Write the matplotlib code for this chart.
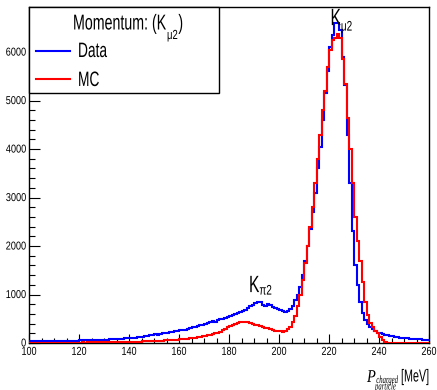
import matplotlib
matplotlib.use("Agg")
import matplotlib.pyplot as plt
import numpy as np
from matplotlib.lines import Line2D
from matplotlib.patches import Rectangle
from matplotlib.ticker import MultipleLocator
from matplotlib.patheffects import AbstractPathEffect
from matplotlib.transforms import Affine2D

SANS = ["Liberation Sans", "DejaVu Sans"]
SERIF = ["Liberation Serif", "DejaVu Serif"]
plt.rcParams["font.family"] = SANS

# Charged-particle momentum spectrum, 1 MeV bins from 100 to 260 MeV
p_low, p_high = 100, 260
bin_edges = np.arange(p_low, p_high + 1, 1)

data_counts = [
    35, 30, 38, 33, 36, 40, 34, 38, 42, 37,
    40, 44, 39, 43, 46, 42, 48, 45, 50, 47,
    52, 49, 55, 58, 53, 60, 57, 63, 66, 62,
    70, 68, 75, 80, 77, 85, 90, 88, 97, 95,
    105, 110, 108, 120, 125, 130, 138, 145, 160, 170,
    180, 175, 195, 200, 210, 205, 225, 235, 245, 240,
    260, 275, 270, 295, 310, 330, 340, 355, 370, 380,
    395, 410, 430, 445, 440, 470, 490, 500, 520, 540,
    560, 575, 600, 620, 645, 660, 690, 720, 760, 790,
    820, 850, 840, 790, 770, 810, 790, 750, 730, 700,
    680, 660, 645, 665, 710, 770, 880, 990, 1150, 1400,
    1700, 2000, 2350, 2700, 3100, 3600, 4050, 4600, 5150, 5600,
    6100, 6350, 6600, 6600, 6450, 5900, 5320, 4300, 3300, 2300,
    1600, 1200, 850, 620, 480, 400, 330, 280, 240, 215,
    200, 190, 175, 160, 150, 140, 130, 120, 112, 105,
    100, 95, 92, 88, 85, 80, 76, 72, 68, 64,
]

mc_counts = [
    5, 4, 6, 5, 5, 6, 5, 7, 6, 6,
    7, 6, 8, 7, 8, 9, 8, 10, 9, 10,
    10, 11, 10, 12, 12, 13, 12, 14, 15, 14,
    15, 16, 17, 16, 18, 20, 19, 21, 22, 24,
    25, 26, 28, 30, 29, 32, 34, 36, 38, 40,
    42, 45, 44, 48, 52, 55, 58, 62, 66, 70,
    75, 80, 85, 90, 98, 105, 112, 120, 130, 140,
    150, 160, 172, 185, 200, 215, 235, 260, 290, 320,
    345, 370, 390, 410, 425, 435, 440, 430, 415, 400,
    380, 365, 350, 335, 315, 300, 285, 270, 255, 245,
    240, 235, 245, 280, 340, 430, 560, 760, 1000, 1300,
    1650, 2000, 2400, 2800, 3300, 3800, 4300, 4800, 5200, 5700,
    6050, 6250, 6300, 6380, 6300, 5850, 5350, 4650, 4000, 3300,
    2600, 2100, 1700, 1250, 850, 580, 420, 330, 240, 200,
    120, 60, 25, 10, 5, 4, 3, 3, 2, 2,
    2, 2, 2, 1, 1, 1, 1, 1, 1, 1,
]

series_labels = ["Data", "MC"]
series_colors = [(0, 0, 1), (1, 0, 0)]
x_ticks = [100, 120, 140, 160, 180, 200, 220, 240, 260]
y_ticks = [0, 1000, 2000, 3000, 4000, 5000, 6000]


class Tall(AbstractPathEffect):
    """Draw text glyphs stretched vertically about their baseline (condensed look)."""

    def __init__(self, sy):
        super().__init__()
        self.sy = sy

    def draw_path(self, renderer, gc, tpath, affine, rgbFace=None):
        renderer.draw_path(gc, tpath, Affine2D().scale(1, self.sy) + affine, rgbFace)


W, H = 437, 390
fig = plt.figure(figsize=(W / 100, H / 100), dpi=100)
renderer = fig.canvas.get_renderer()
ax = fig.add_axes([29 / W, 1 - 343 / H, 400 / W, 336 / H])

for counts, color in zip([data_counts, mc_counts], series_colors):
    ax.stairs(counts, bin_edges, color=color, lw=1.5, baseline=None, zorder=3)

ax.set_xlim(p_low, p_high)
ax.set_ylim(0, 6930)
ax.set_xticks(x_ticks)
ax.set_yticks(y_ticks)
ax.xaxis.set_minor_locator(MultipleLocator(5))
ax.yaxis.set_minor_locator(MultipleLocator(200))
ax.tick_params(which="both", direction="in", top=False, right=False,
               width=0.8, colors="black")
ax.tick_params(axis="y", which="major", length=8, pad=2, labelsize=6.6)
ax.tick_params(axis="y", which="minor", length=4.3)
ax.tick_params(axis="x", which="major", length=6.5, pad=3.5, labelsize=6.5)
ax.tick_params(axis="x", which="minor", length=3.6)
for lab in ax.get_xticklabels():
    lab.set_path_effects([Tall(1.28)])
for lab in ax.get_yticklabels():
    lab.set_path_effects([Tall(1.25)])
for s in ax.spines.values():
    s.set_linewidth(1.0)


def ptext(x_px, base_px, s, size, sx, **kw):
    """Left-aligned condensed text at a pixel position; returns it and its width."""
    t = fig.text(x_px / W, 1 - base_px / H, s, fontsize=size * sx, ha="left",
                 va="baseline", **kw)
    t.set_path_effects([Tall(1 / sx)])
    return t, t.get_window_extent(renderer).width


# Legend box in the upper-left corner
leg_h = 86 / 336
ax.add_patch(Rectangle((0, 1 - leg_h), 190 / 400, leg_h, transform=ax.transAxes,
                       facecolor="white", edgecolor="black", lw=1.0,
                       zorder=6, clip_on=False))
_, w = ptext(73, 29.5, "Momentum: (K", 15.5, 0.66)
_, w2 = ptext(73 + w + 0.5, 39, "\u03bc2", 9.5, 0.72)
ptext(73 + w + 0.5 + w2 + 0.5, 29.5, ")", 15.5, 0.66)

line_rows = [50.7, 79.3]
text_rows = [57, 86]
for lab, color, ly, ty in zip(series_labels, series_colors, line_rows, text_rows):
    ax.add_line(Line2D([36 / W, 69.5 / W], [1 - ly / H] * 2,
                       transform=fig.transFigure, color=color, lw=1.5,
                       zorder=7, clip_on=False))
    ptext(78, ty, lab, 15, 0.66)


# Peak labels, placed at their momentum / count position
def peak_label(p, count, sub_text, sub_drop):
    xd, yd = ax.transData.transform((p, count))
    x_px, base_px = xd, H - yd
    _, wk = ptext(x_px, base_px, "K", 17, 0.66)
    ptext(x_px + wk, base_px + sub_drop, sub_text, 10, 0.72)


peak_label(220.6, 6557, "\u03bc2", 5.5)
peak_label(188.0, 1050, "\u03c02", 2.5)

# Axis title at the lower right
_, wp = ptext(367, 382, "P", 13, 0.8, family=SERIF, style="italic")
ptext(367 + wp + 0.5, 383, "charged", 7.8, 0.62, family=SERIF, style="italic")
ptext(375, 389.5, "particle", 7.8, 0.62, family=SERIF, style="italic")
ptext(401, 381.5, "[MeV]", 12.5, 0.62)

fig.savefig("out.png", dpi=100)
